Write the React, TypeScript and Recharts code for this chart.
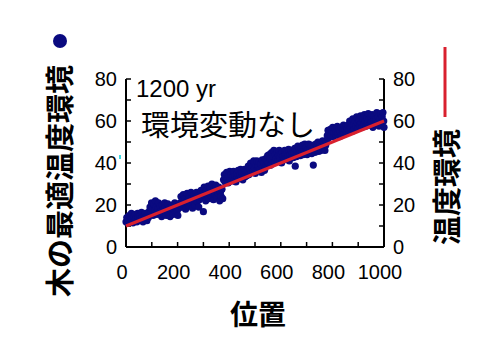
import React from 'react';
import { ComposedChart, Scatter, XAxis, YAxis } from 'recharts';

// optimum temperature of each tree vs position
const segA = [[0,12],[3,14],[6,11.5],[9,13],[12,15],[15,12],[18,14],[21,16],[24,13],[27,11.5],[30,14.5],[33,12.5],[36,15.5],[39,13.5],[42,12],[45,16],[48,14],[51,12.5],[54,15],[57,13],[60,16.5],[63,14],[66,12],[69,15],[72,13.5],[75,16],[78,14.5],[81,12.5],[84,15.5],[87,14],[90,17]];
const segB = [[93,19],[96,16],[99,21],[102,18],[105,15],[108,20.5],[111,17.5],[114,22],[117,19],[120,15.5],[123,18],[126,21],[129,16.5],[132,19.5],[135,17],[138,14.5],[141,20],[144,18],[147,16],[150,21],[153,19],[156,15],[159,17.5],[162,20.5],[165,16],[168,18.5],[171,14.5],[174,19],[177,17],[180,20],[183,15.5],[186,18],[189,21],[192,16.5],[195,19],[198,17],[201,15],[204,18.5],[207,20]];
const segC = [[210,21],[213,24],[216,19],[219,22.5],[222,25],[225,20],[228,23],[231,18],[234,21.5],[237,25.5],[240,22],[243,19.5],[246,24],[249,21],[252,26],[255,23],[258,18.5],[261,22],[264,25],[267,20],[270,23.5],[273,26],[276,21.5],[279,24.5],[282,19],[285,22.5],[288,25],[300,16.8]];
const segD = [[291,27],[294,23.5],[297,26],[303,28.5],[306,24],[309,22],[312,27],[315,25],[318,29],[321,23],[324,26.5],[327,28],[330,24.5],[333,30],[336,26],[339,22.5],[342,28],[345,25],[348,29.5],[351,23.5],[354,27],[357,25.5],[360,28.5],[363,22],[366,26],[369,24],[372,27.5],[375,23]];
const segE = [[378,32],[381,34.5],[384,31],[387,33],[390,35.5],[393,32.5],[396,30.5],[399,34],[402,36],[405,32],[408,34.5],[411,31.5],[414,33.5],[417,36],[420,32],[423,34],[426,31],[429,35],[432,33],[435,36.5],[438,32.5],[441,34.5],[444,37],[447,33],[450,35.5],[453,32],[456,34],[459,37],[462,33.5],[465,36],[468,34]];
const segF = [[471,36],[474,38.5],[477,34.5],[480,37],[483,40],[486,35.5],[489,38],[492,36],[495,41],[498,37.5],[501,35],[504,39],[507,41],[510,36.5],[513,38.5],[516,40.5],[519,37],[522,39.5],[525,35.5],[528,41.5],[531,38],[534,40],[537,36.5],[540,42],[543,39]];
const segG = [[546,41],[549,43.5],[552,40],[555,44],[558,42],[561,39],[564,45],[567,41.5],[570,43],[573,46],[576,40.5],[579,44],[582,42],[585,45.5],[588,41],[591,43.5],[594,46],[597,42.5],[600,44.5],[603,40],[606,45],[609,43],[612,41.5],[615,46],[618,44],[621,42],[624,45.5],[627,43],[630,46.5],[633,41],[636,44],[639,46],[642,43],[645,45],[648,42.5],[656,38.5],[726,39]];
const segH = [[651,45],[654,47],[660,43],[663,46],[666,48],[669,44],[672,46.5],[675,43.5],[678,47],[681,45],[684,48.5],[687,44],[690,46],[693,49],[696,45.5],[699,47.5],[702,44],[705,46.5],[708,49],[711,45],[714,47],[717,48.5],[720,44.5],[723,46],[729,47.5],[732,45],[735,49],[738,46.5],[741,48],[744,50],[747,45.5],[750,47.5],[753,49],[756,46],[759,48],[762,50.5],[765,47],[768,49],[771,46],[774,48.5],[777,50]];
const segI = [[780,53],[783,55.5],[786,52],[789,54],[792,56],[795,53],[798,55],[801,57],[804,52.5],[807,54.5],[810,56.5],[813,53.5],[816,55],[819,57.5],[822,54],[825,56],[828,52.5],[831,55],[834,57],[837,53.5],[840,55.5],[843,58],[846,54],[849,56],[852,57.5],[855,54.5],[858,56.5]];
const segJ = [[861,58],[864,55.5],[867,60],[870,57],[873,59],[876,55],[879,61],[882,58],[885,56],[888,60],[891,57.5],[894,62],[897,59],[900,56.5],[903,60.5],[906,58],[909,62.5],[912,59],[915,57],[918,61],[921,58.5],[924,63],[927,60],[930,57.5],[933,61.5],[936,59],[939,63.5],[942,60.5],[945,58],[948,62],[951,59.5],[954,63],[957,57],[960,60],[963,62.5],[966,58.5],[969,61],[972,64],[975,59],[978,62],[981,57.5],[984,61],[987,63.5],[990,59.5],[993,62],[996,64],[999,60],[1000,57]];

// temperature environment (straight line)
const envLine = [[0, 10], [1000, 60]];

const xTicks = [0, 100, 200, 300, 400, 500, 600, 700, 800, 900, 1000];
const yTicks = [0, 10, 20, 30, 40, 50, 60, 70, 80];

const trees = [...segA, ...segB, ...segC, ...segD, ...segE, ...segF, ...segG, ...segH, ...segI, ...segJ].map(([x, y]) => ({ x, y }));
const fit = envLine.map(([x, y]) => ({ x, y }));

const NUM_FONT = '"Liberation Sans", Arial, sans-serif';
const JP_FONT = '"Noto Sans CJK JP", sans-serif';
const NAVY = '#0a0a80';
const RED = '#d9202e';

const Dot = (props: any) => <circle cx={props.cx} cy={props.cy} r={3.6} fill={NAVY} />;
const NoDot = () => <g />;

const LeftTick = (props: any) => {
  const { x, y, payload } = props;
  if (payload.value % 20 !== 0) return <g />;
  return (
    <text x={x} y={y} dy="0.36em" textAnchor="end" fontSize={20} fontFamily={NUM_FONT} fill="#000">
      {payload.value}
    </text>
  );
};

const RightTick = (props: any) => {
  const { x, y, payload } = props;
  if (payload.value % 20 !== 0) return <g />;
  return (
    <text x={x} y={y} dy="0.36em" textAnchor="start" fontSize={20} fontFamily={NUM_FONT} fill="#000">
      {payload.value}
    </text>
  );
};

const BottomTick = (props: any) => {
  const { x, y, payload } = props;
  if (payload.value % 200 !== 0) return <g />;
  return (
    <text x={x - 4} y={y} dy="0.71em" textAnchor="middle" fontSize={20} fontFamily={NUM_FONT} fill="#000">
      {payload.value}
    </text>
  );
};

const axisLine = { stroke: '#000', strokeWidth: 2 };
const tickLine = { stroke: '#000', strokeWidth: 1.5 };

export default function App() {
  return (
    <div style={{ position: 'absolute', left: 0, top: 0, width: 500, height: 360, background: '#fff' }}>
      <ComposedChart width={500} height={360} margin={{ top: 79, right: 76, bottom: 83, left: 86 }}>
        <XAxis
          dataKey="x"
          type="number"
          domain={[0, 1000]}
          ticks={xTicks}
          height={30}
          axisLine={axisLine}
          tickLine={tickLine}
          tickSize={-5}
          tickMargin={23}
          tick={<BottomTick />}
          interval={0}
        />
        <YAxis
          yAxisId="left"
          dataKey="y"
          orientation="left"
          domain={[0, 80]}
          ticks={yTicks}
          width={40}
          axisLine={axisLine}
          tickLine={tickLine}
          tickSize={-5}
          tickMargin={14}
          tick={<LeftTick />}
          interval={0}
        />
        <YAxis
          yAxisId="right"
          dataKey="y"
          orientation="right"
          domain={[0, 80]}
          ticks={yTicks}
          width={40}
          axisLine={axisLine}
          tickLine={tickLine}
          tickSize={-5}
          tickMargin={14}
          tick={<RightTick />}
          interval={0}
        />
        <Scatter yAxisId="left" data={trees} dataKey="y" shape={<Dot />} isAnimationActive={false} />
        <Scatter
          yAxisId="right"
          data={fit}
          dataKey="y"
          shape={<NoDot />}
          line={{ stroke: RED, strokeWidth: 3 }}
          isAnimationActive={false}
        />
      </ComposedChart>
      <svg width={500} height={360} style={{ position: 'absolute', left: 0, top: 0, pointerEvents: 'none' }}>
        <text x={136} y={97} fontSize={24} fontFamily={NUM_FONT} fill="#000">1200 yr</text>
        <text x={141} y={136} fontSize={29} fontFamily={JP_FONT} fill="#000">環境変動なし</text>
        <text x={258} y={325} fontSize={28} fontWeight={700} fontFamily={JP_FONT} textAnchor="middle" fill="#000">位置</text>
        <text
          x={58}
          y={297}
          transform="rotate(-90 58 297)"
          fontSize={29}
          fontWeight={700}
          fontFamily={JP_FONT}
          dominantBaseline="central"
          fill="#000"
        >
          木の最適温度環境
        </text>
        <circle cx={60} cy={41} r={7} fill={NAVY} />
        <text
          x={445}
          y={245}
          transform="rotate(-90 445 245)"
          fontSize={29}
          fontWeight={700}
          fontFamily={JP_FONT}
          dominantBaseline="central"
          fill="#000"
        >
          温度環境
        </text>
        <line x1={445} y1={47} x2={445} y2={117} stroke={RED} strokeWidth={3} />
        <rect x={119} y={155} width={2} height={4} fill="#40d8e0" />
      </svg>
    </div>
  );
}
